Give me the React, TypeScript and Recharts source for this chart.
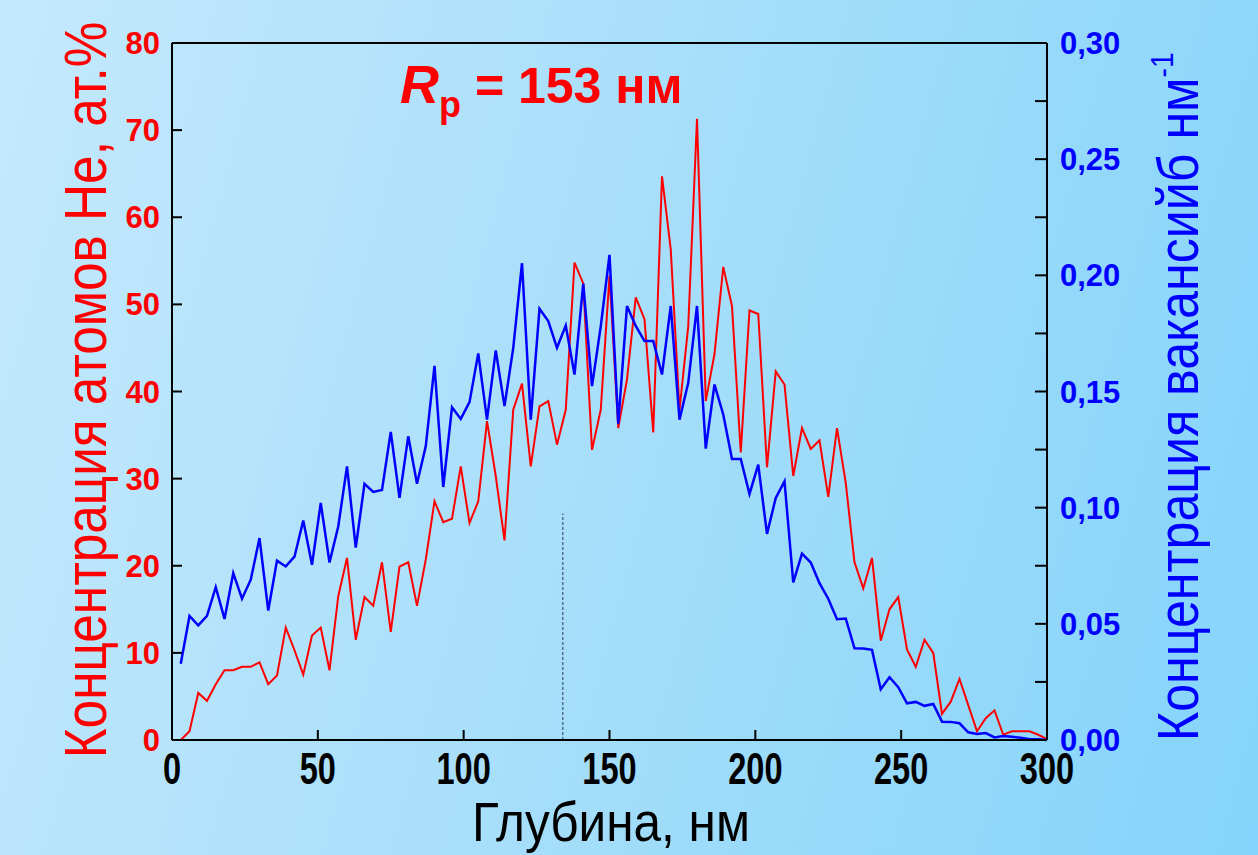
import React from "react";
import { LineChart, Line, XAxis, YAxis, ReferenceLine } from "recharts";

// depth, nm (step 3 nm)
const depth = [
  3, 6, 9, 12, 15, 18, 21, 24, 27, 30, 33, 36, 39, 42, 45, 48, 51, 54, 57, 60,
  63, 66, 69, 72, 75, 78, 81, 84, 87, 90, 93, 96, 99, 102, 105, 108, 111, 114,
  117, 120, 123, 126, 129, 132, 135, 138, 141, 144, 147, 150, 153, 156, 159,
  162, 165, 168, 171, 174, 177, 180, 183, 186, 189, 192, 195, 198, 201, 204,
  207, 210, 213, 216, 219, 222, 225, 228, 231, 234, 237, 240, 243, 246, 249,
  252, 255, 258, 261, 264, 267, 270, 273, 276, 279, 282, 285, 288, 291, 294,
  297, 300,
];

// He atoms, at.%
const heliumConc = [
  0, 1.0, 5.4, 4.5, 6.4, 8.0, 8.0, 8.4, 8.4, 8.9, 6.4, 7.4, 12.9, 10.3, 7.5,
  12.0, 12.9, 8.0, 16.5, 20.9, 11.5, 16.4, 15.4, 20.4, 12.4, 19.9, 20.4, 15.4,
  20.7, 27.4, 25.0, 25.4, 31.4, 24.9, 27.4, 36.6, 30.3, 22.9, 37.9, 40.9, 31.4,
  38.3, 38.9, 33.9, 37.9, 54.8, 52.4, 33.3, 37.9, 53.3, 35.8, 41.4, 50.8, 48.3,
  35.3, 64.7, 56.3, 37.9, 47.5, 71.3, 38.9, 44.3, 54.3, 49.8, 33.0, 49.3, 48.9,
  31.3, 42.3, 40.8, 30.3, 35.8, 33.4, 34.4, 27.9, 35.8, 29.5, 20.4, 17.4, 20.9,
  11.4, 15.0, 16.4, 10.4, 8.4, 11.5, 10.0, 3.0, 4.4, 7.0, 4.0, 1.0, 2.5, 3.4,
  0.6, 1.0, 1.0, 1.0, 0.6, 0.1,
];

// vacancies, nm^-1
const vacancyConc = [
  0.0328, 0.0534, 0.0493, 0.0534, 0.0658, 0.0521, 0.0718, 0.0608, 0.069,
  0.0869, 0.0557, 0.0772, 0.0747, 0.0789, 0.0945, 0.0754, 0.102, 0.0764,
  0.0919, 0.1178, 0.0828, 0.1103, 0.1068, 0.1076, 0.1326, 0.1042, 0.1307,
  0.1103, 0.1264, 0.161, 0.1089, 0.1432, 0.1382, 0.1454, 0.1664, 0.1379,
  0.1677, 0.1437, 0.1688, 0.2052, 0.1379, 0.1856, 0.1803, 0.1688, 0.1784,
  0.1573, 0.1964, 0.1523, 0.178, 0.2088, 0.1362, 0.1868, 0.1782, 0.1717,
  0.1717, 0.1573, 0.1868, 0.1379, 0.1537, 0.1868, 0.1254, 0.153, 0.1401,
  0.121, 0.121, 0.1059, 0.1185, 0.0887, 0.1042, 0.1113, 0.0678, 0.0802,
  0.0764, 0.0675, 0.0608, 0.052, 0.0523, 0.0395, 0.0394, 0.0388, 0.0218,
  0.027, 0.0227, 0.0158, 0.0164, 0.0147, 0.0155, 0.0079, 0.0078, 0.0072,
  0.0033, 0.0026, 0.003, 0.0011, 0.0017, 0.0014, 0.001, 0.0003, 0.0003, 0,
];

const depthTicks = [0, 50, 100, 150, 200, 250, 300];
const heTicks = [0, 10, 20, 30, 40, 50, 60, 70, 80];
const vacTicks = [
  0, 0.025, 0.05, 0.075, 0.1, 0.125, 0.15, 0.175, 0.2, 0.225, 0.25, 0.275, 0.3,
];

// dashed marker
const markDepth = 134;
const markHe = 26;

const data = depth.map((d, i) => ({
  depth: d,
  he: heliumConc[i],
  vac: vacancyConc[i],
}));

const font = "'Liberation Sans', Arial, sans-serif";
const axisStyle = { stroke: "#000", strokeWidth: 2 };

function DepthTick(props: any) {
  const { x, y, payload } = props;
  return (
    <g transform={`translate(${x},${y})`}>
      <text
        transform="scale(0.74,1)"
        textAnchor="middle"
        dy={44}
        fontSize={44}
        fontWeight="bold"
        fontFamily={font}
        fill="#000"
      >
        {payload.value}
      </text>
    </g>
  );
}

function HeTick(props: any) {
  const { x, y, payload } = props;
  return (
    <text
      x={x - 12}
      y={y}
      dy={11}
      textAnchor="end"
      fontSize={31}
      fontWeight="bold"
      fontFamily={font}
      fill="#ff0000"
    >
      {payload.value}
    </text>
  );
}

function VacTick(props: any) {
  const { x, y, payload } = props;
  const v = payload.value as number;
  if (Math.round(v * 1000) % 50 !== 0) return <g />;
  return (
    <text
      x={x + 13}
      y={y}
      dy={11}
      textAnchor="start"
      fontSize={31}
      fontWeight="bold"
      fontFamily={font}
      fill="#0000ff"
    >
      {v.toFixed(2).replace(".", ",")}
    </text>
  );
}

export default function App() {
  return (
    <div
      style={{
        position: "absolute",
        left: 0,
        top: 0,
        width: 1258,
        height: 855,
        overflow: "hidden",
        background:
          "linear-gradient(105deg, #c4e9fc 0%, #a9dffa 45%, #84d4fb 100%)",
      }}
    >
      <LineChart
        width={1258}
        height={855}
        data={data}
        margin={{ top: 43, right: 136, bottom: 75, left: 112 }}
      >
        <XAxis
          dataKey="depth"
          type="number"
          domain={[0, 300]}
          ticks={depthTicks}
          interval={0}
          height={40}
          tickSize={-10}
          tickMargin={10}
          tick={<DepthTick />}
          axisLine={axisStyle}
          tickLine={axisStyle}
        />
        <YAxis
          yAxisId="he"
          type="number"
          domain={[0, 80]}
          ticks={heTicks}
          interval={0}
          width={60}
          tickSize={-10}
          tickMargin={10}
          tick={<HeTick />}
          axisLine={axisStyle}
          tickLine={axisStyle}
        />
        <YAxis
          yAxisId="vac"
          orientation="right"
          type="number"
          domain={[0, 0.3]}
          ticks={vacTicks}
          interval={0}
          width={75}
          tickSize={-12}
          tickMargin={12}
          tick={<VacTick />}
          axisLine={axisStyle}
          tickLine={axisStyle}
        />
        <ReferenceLine yAxisId="he" y={80} stroke="#000" strokeWidth={2} />
        <ReferenceLine
          yAxisId="he"
          segment={[
            { x: markDepth, y: 0 },
            { x: markDepth, y: markHe },
          ]}
          stroke="#2b3a4a"
          strokeWidth={1}
          strokeDasharray="3 2"
        />
        <Line
          yAxisId="he"
          dataKey="he"
          type="linear"
          stroke="#ff0000"
          strokeWidth={2}
          dot={false}
          isAnimationActive={false}
        />
        <Line
          yAxisId="vac"
          dataKey="vac"
          type="linear"
          stroke="#0000ff"
          strokeWidth={2.5}
          dot={false}
          isAnimationActive={false}
        />
      </LineChart>
      <svg
        width={1258}
        height={855}
        style={{ position: "absolute", left: 0, top: 0, pointerEvents: "none" }}
        fontFamily={font}
      >
        <text
          transform="translate(611,841) scale(0.9,1)"
          textAnchor="middle"
          fontSize={55}
          fill="#000"
        >
          Глубина, нм
        </text>
        <text
          transform="translate(106,390) rotate(-90) scale(0.87,1)"
          textAnchor="middle"
          fontSize={59}
          fill="#ff0000"
        >
          Концентрация атомов He, ат.%
        </text>
        <text
          transform="translate(1198,741) rotate(-90) scale(0.88,1)"
          textAnchor="start"
          fontSize={57}
          fill="#0000ff"
        >
          <tspan>Концентрация вакансийб нм</tspan>
          <tspan fontSize={32} dy={-25}>
            -1
          </tspan>
        </text>
        <text x={400} y={103} fontSize={54} fontWeight="bold" fill="#ff0000">
          <tspan fontStyle="italic">R</tspan>
          <tspan fontSize={36} dy={14}>
            p
          </tspan>
          <tspan fontSize={50} dy={-14}>
            {" = 153 нм"}
          </tspan>
        </text>
      </svg>
    </div>
  );
}
